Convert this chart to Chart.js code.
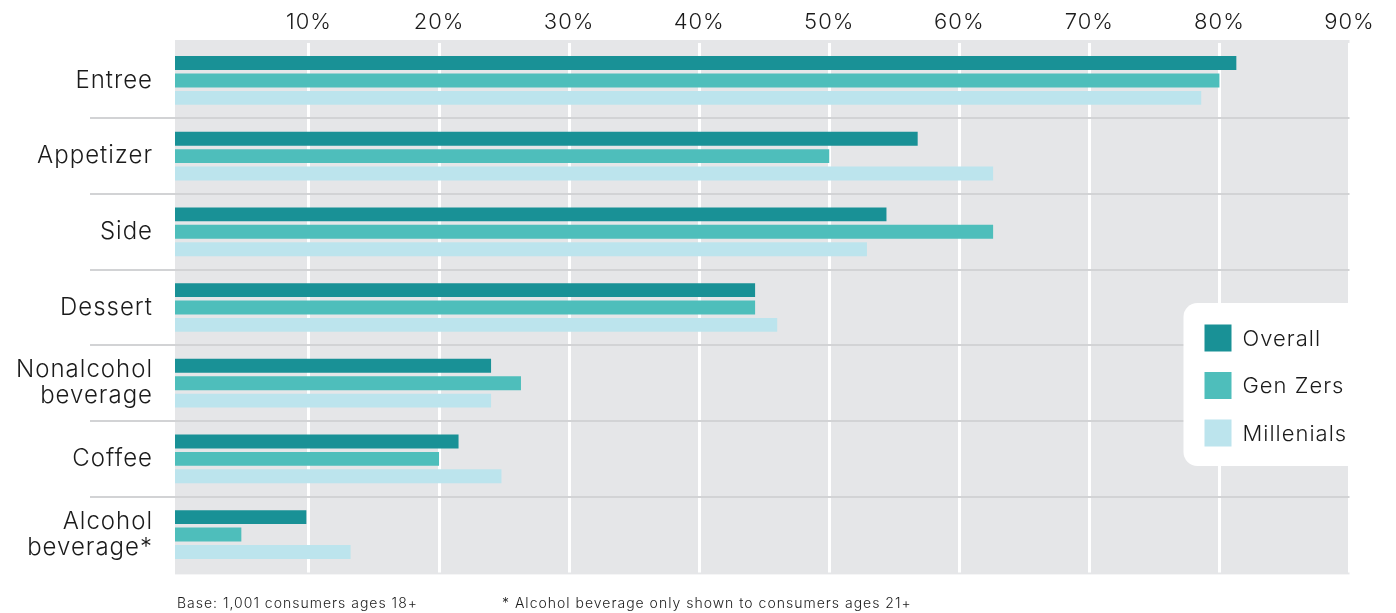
<!DOCTYPE html>
<html>
<head>
<meta charset="utf-8">
<script src="https://cdn.jsdelivr.net/npm/chart.js@4.4.1/dist/chart.umd.min.js"></script>
<style>
  html, body { margin: 0; padding: 0; background: #fff; }
  #wrap { position: relative; width: 1396px; height: 613px; }
</style>
</head>
<body>
<div id="wrap"><canvas id="chart"></canvas></div>
<script>
const categories = ['Entree', 'Appetizer', 'Side', 'Dessert', ['Nonalcohol', 'beverage'], 'Coffee', ['Alcohol', 'beverage*']];
const seriesNames = ['Overall', 'Gen Zers', 'Millenials'];
const overall = [81.3, 56.8, 54.4, 44.3, 24.0, 21.5, 9.8];
const genZers = [80.0, 50.0, 62.6, 44.3, 26.3, 20.0, 4.8];
const millenials = [78.6, 62.6, 52.9, 46.0, 24.0, 24.8, 13.2];
const tickValues = [10, 20, 30, 40, 50, 60, 70, 80, 90];
const footnotes = ['Base: 1,001 consumers ages 18+', '* Alcohol beverage only shown to consumers ages 21+'];

const colors = ['#199196', '#4ebebb', '#bce4ed'];
const FONT = 'Inter, "DejaVu Sans", sans-serif';
const TEXT = '#1b1b1b';

// the reference font runs wider, so open up the tracking a little
const tracking = {
  id: 'tracking',
  beforeUpdate(chart) { chart.ctx.letterSpacing = '1px'; },
  beforeDraw(chart) { chart.ctx.letterSpacing = '1px'; }
};

// grey plot background, a little taller than the bands
const plotBg = {
  id: 'plotBg',
  beforeDraw(chart) {
    const { ctx, chartArea: a } = chart;
    ctx.save();
    ctx.fillStyle = '#e5e6e8';
    ctx.fillRect(a.left, a.top - 2.6, a.right - a.left, a.bottom - a.top + 4.6);
    ctx.restore();
  }
};

// grey lines between the category bands, running under the labels
const separators = {
  id: 'separators',
  beforeDatasetsDraw(chart) {
    const { ctx, chartArea: a, scales: { y } } = chart;
    ctx.save();
    ctx.strokeStyle = '#d2d3d5';
    ctx.lineWidth = 2;
    for (let i = 1; i < categories.length; i++) {
      const py = Math.round((y.getPixelForValue(i - 1) + y.getPixelForValue(i)) / 2);
      ctx.beginPath();
      ctx.moveTo(90, py);
      ctx.lineTo(a.right, py);
      ctx.stroke();
    }
    ctx.restore();
  }
};

// legend box in the right side of the plot + footnotes
const extras = {
  id: 'extras',
  afterDraw(chart) {
    const { ctx, chartArea: a } = chart;
    ctx.save();
    const bx = a.right - 166, by = 303, bw = 180, bh = 163;
    ctx.fillStyle = '#fff';
    ctx.beginPath();
    ctx.roundRect(bx, by, bw, bh, 14);
    ctx.fill();

    ctx.font = '300 22px ' + FONT;
    ctx.textBaseline = 'middle';
    chart.data.datasets.forEach((ds, i) => {
      const cy = 338 + i * 47.5;
      ctx.fillStyle = ds.backgroundColor;
      ctx.fillRect(bx + 21, cy - 13.5, 27, 27);
      ctx.fillStyle = TEXT;
      ctx.fillText(ds.label, bx + 59, cy + 1);
    });

    ctx.font = '300 14px ' + FONT;
    ctx.fillStyle = TEXT;
    ctx.fillText(footnotes[0], 177, 604);
    ctx.fillText(footnotes[1], 502, 604);
    ctx.restore();
  }
};

new Chart(document.getElementById('chart'), {
  type: 'bar',
  data: {
    labels: categories,
    datasets: [overall, genZers, millenials].map((d, i) => ({
      label: seriesNames[i],
      data: d,
      base: -0.3,
      backgroundColor: colors[i],
      borderWidth: 0,
      categoryPercentage: 0.69,
      barPercentage: 0.8
    }))
  },
  options: {
    indexAxis: 'y',
    responsive: true,
    maintainAspectRatio: false,
    animation: false,
    events: [],
    layout: { padding: { top: 0, right: 46.5, bottom: 40.6, left: 0 } },
    scales: {
      x: {
        position: 'top',
        min: -0.3,
        max: 90,
        afterBuildTicks: s => { s.ticks = tickValues.map(v => ({ value: v })); },
        afterFit: s => { s.height = 42.6; s.paddingLeft = 0; s.paddingRight = 0; },
        grid: { color: '#ffffff', lineWidth: 3, drawTicks: false },
        border: { display: false },
        ticks: {
          font: { family: FONT, size: 22, weight: '300' },
          color: TEXT,
          padding: 7,
          callback: v => v + '%'
        }
      },
      y: {
        afterFit: s => { s.width = 175; s.paddingTop = 0; s.paddingBottom = 0; },
        grid: { display: false, drawTicks: false },
        border: { display: false },
        ticks: {
          font: { family: FONT, size: 24, weight: '300', lineHeight: 1.09 },
          color: TEXT,
          padding: 22
        }
      }
    },
    plugins: {
      legend: { display: false },
      tooltip: { enabled: false }
    }
  },
  plugins: [tracking, plotBg, separators, extras]
});
</script>
</body>
</html>
